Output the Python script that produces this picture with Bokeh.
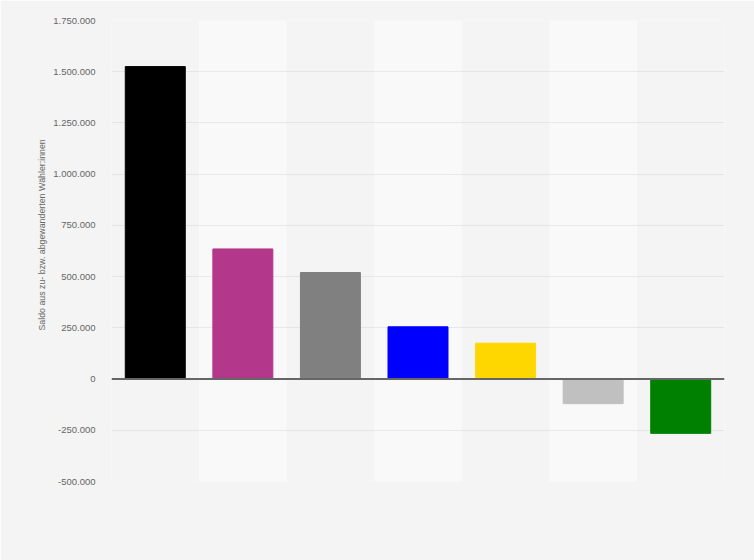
from bokeh.plotting import figure
from bokeh.models import ColumnDataSource, Span, CustomJSTickFormatter, FixedTicker, Range1d, FactorRange, Title
from bokeh.embed import file_html
from bokeh.resources import INLINE

categories = ["CDU/CSU", "Die Linke", "Sonstige", "AfD", "FDP", "BSW", "Grüne"]
values = [1525000, 635000, 520000, 255000, 175000, -120000, -265000]
colors = ["#000000", "#b3378a", "#808080", "#0000ff", "#ffd700", "#c0c0c0", "#008000"]
y_ticks = [-500000, -250000, 0, 250000, 500000, 750000, 1000000, 1250000, 1500000, 1750000]
y_title = "Saldo aus zu- bzw. abgewanderten Wähler:innen"

BG = "#f4f4f4"
W, H = 754, 560
LEFT, TOP, RIGHT, BOTTOM = 111, 20, 30, 79

p = figure(width=W, height=H, output_backend="svg", toolbar_location=None,
           x_range=FactorRange(*categories, range_padding=0),
           y_range=Range1d(-500000, 1750000),
           min_border_left=LEFT, min_border_right=RIGHT, min_border_top=TOP, min_border_bottom=BOTTOM)
p.background_fill_color = BG
p.border_fill_color = BG
p.outline_line_color = None

# alternating column bands
band_cats = categories[1::2]
band_src = ColumnDataSource(dict(x=band_cats, top=[y_ticks[-1]] * len(band_cats),
                                 bottom=[y_ticks[0]] * len(band_cats)))
p.vbar(x="x", top="top", bottom="bottom", width=1.0, source=band_src,
       fill_color="#f9f9f9", line_color=None, level="underlay")

src = ColumnDataSource(dict(x=categories, top=values, color=colors))
p.vbar(x="x", top="top", bottom=0, width=0.685, source=src,
       fill_color="color", line_color="color", line_width=1)

p.add_layout(Span(location=0, dimension="width", line_color="#666666", line_width=2))

p.xaxis.visible = False
p.xgrid.visible = False

p.yaxis.ticker = FixedTicker(ticks=y_ticks)
p.yaxis.formatter = CustomJSTickFormatter(code="""
var s = String(Math.round(Math.abs(tick))).replace(/\\B(?=(\\d{3})+(?!\\d))/g, '.');
return (tick < 0 ? '-' : '') + s;
""")
p.yaxis.axis_line_color = None
p.yaxis.major_tick_line_color = None
p.yaxis.minor_tick_line_color = None
p.yaxis.major_tick_out = 0
p.yaxis.major_label_standoff = 16
p.yaxis.major_label_text_font = "Liberation Sans"
p.yaxis.major_label_text_font_size = "9.5px"
p.yaxis.major_label_text_color = "#666666"

# y-axis title as a left-side Title, starting a little above the frame bottom
ytitle = Title(text=y_title, align="left", offset=151, standoff=8,
               text_font="Liberation Sans", text_font_size="8.8px",
               text_font_style="normal", text_color="#666666")
p.add_layout(ytitle, "left")

p.ygrid.grid_line_color = "#d6d6d6"
p.ygrid.grid_line_dash = "1 1"
p.ygrid.grid_line_width = 1

html = file_html(p, INLINE)
html = html.replace("<body>", '<body style="margin:0;background:#f4f4f4">', 1)
open("out.html", "w").write(html)
